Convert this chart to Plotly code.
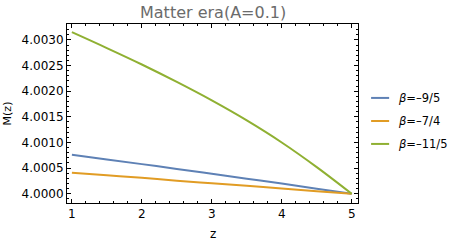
import plotly.graph_objects as go

z = [1, 1.5, 2, 2.5, 3, 3.5, 4, 4.5, 5]
m_9_5 = [4.00076, 4.00067, 4.000578, 4.000485, 4.00039, 4.000295, 4.000198, 4.0001, 4.00000]
m_7_4 = [4.00041, 4.00036, 4.00031, 4.000256, 4.000205, 4.000154, 4.000103, 4.00005, 4.00000]
m_11_5 = [4.00315, 4.00284, 4.00252, 4.00218, 4.00182, 4.00143, 4.00100, 4.00052, 4.00000]
names = ["<i>β</i>=–9/5", "<i>β</i>=–7/4", "<i>β</i>=–11/5"]
colors = ["#5E81B5", "#E19C24", "#8FB032"]

fnt = "DejaVu Sans"
fig = go.Figure()
for ys, nm, c in zip([m_9_5, m_7_4, m_11_5], names, colors):
    fig.add_trace(go.Scatter(x=z, y=ys, mode="lines", name=nm, showlegend=False,
                             line=dict(color=c, width=2, shape="spline")))

# legend drawn by hand so it doesn't squeeze the plot area
leg_y = [0.587, 0.458, 0.33]
for yy, nm, c in zip(leg_y, names, colors):
    fig.add_shape(type="line", xref="paper", yref="paper", x0=1.045, x1=1.107, y0=yy, y1=yy,
                  line=dict(color=c, width=2))
    fig.add_annotation(x=1.132, y=yy, xref="paper", yref="paper", text=nm, showarrow=False,
                       xanchor="left", yanchor="middle",
                       font=dict(family=fnt, size=11.5, color="black"))

# title and axis titles as annotations (fixed positions)
fig.add_annotation(x=0.5, y=1.067, xref="paper", yref="paper", text="Matter era(A=0.1)",
                   showarrow=False, xanchor="center", yanchor="middle",
                   font=dict(family=fnt, size=16, color="#6b6b6b"))
fig.add_annotation(x=0.5, y=-0.174, xref="paper", yref="paper", text="z",
                   showarrow=False, xanchor="center", yanchor="middle",
                   font=dict(family=fnt, size=12, color="black"))
fig.add_annotation(x=-0.203, y=0.5, xref="paper", yref="paper", text="M(z)", textangle=-90,
                   showarrow=False, xanchor="center", yanchor="middle",
                   font=dict(family=fnt, size=11, color="black"))

ax = dict(showgrid=False, zeroline=False, showline=True, linecolor="black", linewidth=1,
          mirror="ticks", ticks="inside", ticklen=4, tickcolor="black", automargin=False,
          tickfont=dict(family=fnt, size=12, color="black"))

fig.update_layout(
    width=451, height=244,
    margin=dict(l=67, r=93, t=24, b=41),
    plot_bgcolor="white", paper_bgcolor="white",
    showlegend=False,
    xaxis=dict(ax, range=[0.93, 5.09], dtick=1, tick0=1,
               minor=dict(dtick=0.2, ticklen=2, ticks="inside", tickcolor="black")),
    yaxis=dict(ax, range=[3.99982, 4.00331], dtick=0.0005, tick0=4, tickformat=".4f",
               minor=dict(dtick=0.0001, ticklen=2, ticks="inside", tickcolor="black")),
)

# the page body has a default 8px margin; drop it so the figure sits at the corner
fig.write_html("out.html", config={"displayModeBar": False},
               post_script="document.body.style.margin='0';")
